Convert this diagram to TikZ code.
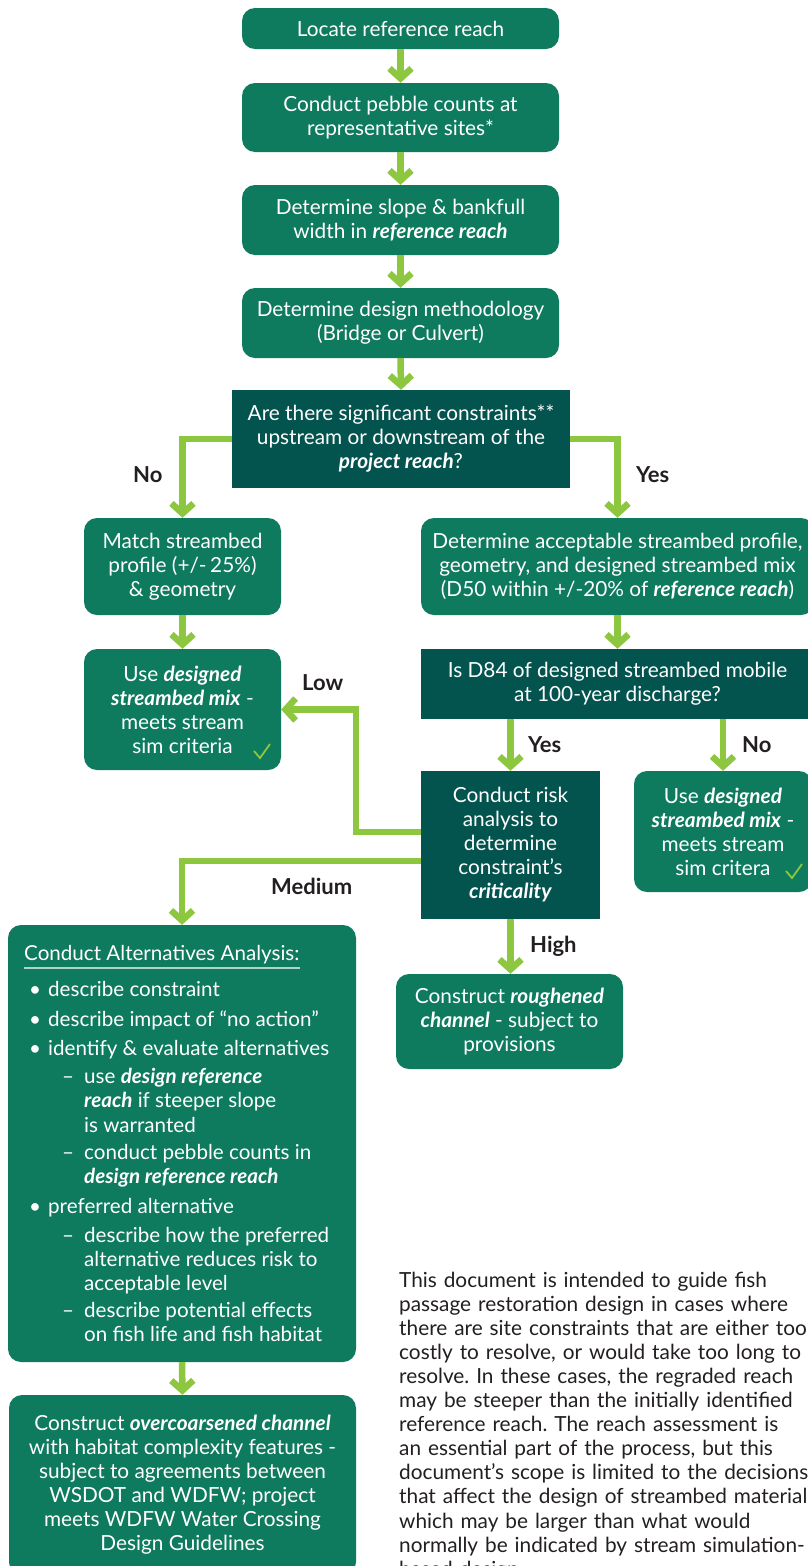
\documentclass[tikz,border=0pt]{standalone}
\usepackage{fontspec}
\setmainfont{Lato}
\usetikzlibrary{arrows.meta,calc}
\definecolor{boxg}{RGB}{14,122,94}
\definecolor{boxd}{RGB}{3,83,79}
\definecolor{arrg}{RGB}{141,198,63}
\definecolor{txtd}{RGB}{35,31,32}
\definecolor{ulc}{RGB}{175,212,198}
\newcommand{\bitx}[1]{\textbf{\textit{#1}}}
\frenchspacing
\begin{document}
\begin{tikzpicture}[x=1pt,y=-1pt,
 boxtext/.style={text=white,font=\fontsize{20.8}{24}\selectfont,align=center,inner sep=0pt},
 gbox/.style={boxtext,fill=boxg,rounded corners=13pt},
 dbox/.style={boxtext,fill=boxd},
 arr/.style={draw=arrg,line width=6.5pt,-{Straight Barb[length=10pt,width=22pt]}},
 lbl/.style={anchor=base west,inner sep=0pt,text=txtd,font=\fontsize{22}{26}\selectfont\bfseries},
 chk/.style={draw=arrg,line width=1.8pt},
 alttext/.style={anchor=base west,inner sep=0pt,text=white,font=\fontsize{20.6}{24}\selectfont},
]
\fill[white] (0,0) rectangle (807,1566);
\useasboundingbox (0,0) rectangle (807,1566);

% boxes
\node[gbox,minimum width=317pt,minimum height=41pt] (b1) at (400.5,28.5) {Locate reference reach};
\node[gbox,minimum width=317pt,minimum height=69pt] (b2) at (400.5,117.5) {Conduct pebble counts at\\representative sites*};
\node[gbox,minimum width=317pt,minimum height=70pt] (b3) at (400.5,220) {Determine slope \& bankfull\\width in \bitx{reference reach}};
\node[gbox,minimum width=317pt,minimum height=70pt] (b4) at (400.5,323) {Determine design methodology\\(Bridge or Culvert)};
\node[dbox,minimum width=338pt,minimum height=98pt] (d1) at (401,439) {Are there significant constraints**\\upstream or downstream of the\\\bitx{project reach}?};
\node[gbox,minimum width=197pt,minimum height=97pt] (m1) at (182.5,566.5) {Match streambed\\profile (+/-\,25\%)\\\& geometry};
\node[gbox,minimum width=393pt,minimum height=97pt] (a1) at (617.5,566.5) {Determine acceptable streambed profile,\\geometry, and designed streambed mix\\(D50 within +/-20\% of \bitx{reference reach})};
\node[gbox,minimum width=197pt,minimum height=121pt] (u1) at (182.5,709.5) {Use \bitx{designed}\\\bitx{streambed mix} -\\meets stream\\sim criteria};
\node[dbox,minimum width=393pt,minimum height=70pt] (d2) at (617.5,684) {Is D84 of designed streambed mobile\\at 100-year discharge?};
\node[dbox,minimum width=179pt,minimum height=148pt] (r1) at (510.5,845) {Conduct risk\\analysis to\\determine\\constraint’s\\\bitx{criticality}};
\node[gbox,minimum width=178pt,minimum height=121pt] (u2) at (723,831.5) {Use \bitx{designed}\\\bitx{streambed mix} -\\meets stream\\sim critera};
\node[gbox,minimum width=227pt,minimum height=95pt] (c1) at (509.5,1021.5) {Construct \bitx{roughened}\\\bitx{channel} - subject to\\provisions};
\node[gbox,minimum width=348pt,minimum height=437pt] (alt) at (182,1143.5) {};
\node[gbox,minimum width=347pt,minimum height=180pt] (f1) at (182.5,1485) {Construct \bitx{overcoarsened channel}\\with habitat complexity features -\\subject to agreements between\\WSDOT and WDFW; project\\meets WDFW Water Crossing\\Design Guidelines};

% check marks
\draw[chk] (254,751) -- (260,758) -- (270,744);
\draw[chk] (786,871) -- (792,878) -- (802,864);

% alternatives text
\node[alttext] (at0) at (24,960) {Conduct Alternatives Analysis:};
\draw[ulc,line width=1.3pt] ([yshift=-8pt]at0.base west) -- ([yshift=-8pt]at0.base east);
\node[alttext] (at1) at (29,996) {\makebox[19pt][l]{•}describe constraint};
\node[alttext] (at2) at (29,1026) {\makebox[19pt][l]{•}describe impact of “no action”};
\node[alttext] (at3) at (29,1055) {\makebox[19pt][l]{•}identify \& evaluate alternatives};
\node[alttext] (at4) at (62,1083) {\makebox[22pt][l]{–}use \bitx{design reference}};
\node[alttext] (at5) at (84,1107.5) {\bitx{reach} if steeper slope};
\node[alttext] (at6) at (84,1132) {is warranted};
\node[alttext] (at7) at (62,1159) {\makebox[22pt][l]{–}conduct pebble counts in};
\node[alttext] (at8) at (84,1183) {\bitx{design reference reach}};
\node[alttext] (at9) at (29,1213) {\makebox[19pt][l]{•}preferred alternative};
\node[alttext] (at10) at (62,1242) {\makebox[22pt][l]{–}describe how the preferred};
\node[alttext] (at11) at (84,1266) {alternative reduces risk to};
\node[alttext] (at12) at (84,1290) {acceptable level};
\node[alttext] (at13) at (62,1317) {\makebox[22pt][l]{–}describe potential effects};
\node[alttext] (at14) at (84,1341) {on fish life and fish habitat};

% connectors
\draw[arr] (b1.south) -- (b2.north);
\draw[arr] (b2.south) -- (b3.north);
\draw[arr] (b3.south) -- (b4.north);
\draw[arr] (b4.south) -- (d1.north);
\draw[arr] (d1.west) -| (m1.north);
\draw[arr] (d1.east) -| (a1.north);
\draw[arr] (m1.south) -- (u1.north);
\draw[arr] (a1.south) -- (d2.north);
\draw[arr] (r1.north |- d2.south) -- (r1.north);
\draw[arr] (u2.north |- d2.south) -- (u2.north);
\draw[arr] ([yshift=13pt]r1.west) -- ++(-65,0) |- (u1.east);
\draw[arr] ([yshift=-16pt]r1.west) -| (alt.north);
\draw[arr] (r1.south) -- (r1.south |- c1.north);
\draw[arr] (alt.south) -- (f1.north);

% labels
\node[lbl] (lno) at (133,482) {No};
\node[lbl] (lyes) at (636,482) {Yes};
\node[lbl] (llow) at (302,690) {Low};
\node[lbl] (lyes2) at (528,752) {Yes};
\node[lbl] (lno2) at (742,752) {No};
\node[lbl] (lmed) at (271,894) {Medium};
\node[lbl] (lhigh) at (530,952) {High};

% paragraph
\node[anchor=base west,inner sep=0pt,text=txtd,text width=430pt,align=left,font=\fontsize{20.8}{24.1}\selectfont] (para) at (399,1287) {This document is intended to guide fish\\
passage restoration design in cases where\\
there are site constraints that are either too\\
costly to resolve, or would take too long to\\
resolve. In these cases, the regraded reach\\
may be steeper than the initially identified\\
reference reach. The reach assessment is\\
an essential part of the process, but this\\
document’s scope is limited to the decisions\\
that affect the design of streambed material\\
which may be larger than what would\\
normally be indicated by stream simulation-\\
based design.};
\end{tikzpicture}
\end{document}
